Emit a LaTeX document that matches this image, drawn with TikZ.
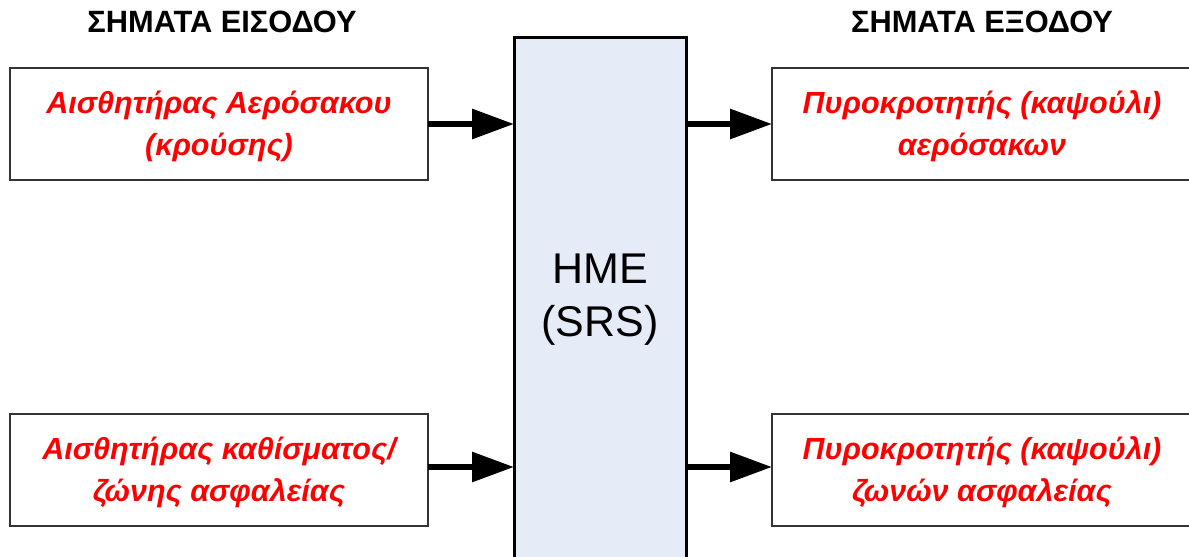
\documentclass[tikz,border=0pt]{standalone}
\usepackage{fontspec}
\setmainfont{Liberation Sans}
\usetikzlibrary{arrows.meta}
\begin{document}
\begin{tikzpicture}[x=1pt,y=-1pt,
  inbox/.style={draw=black!80, line width=1.2pt, fill=white},
  lbl/.style={text=red, font=\fontsize{30.5}{42}\selectfont\bfseries\itshape, align=center},
  head/.style={font=\fontsize{30.8}{34}\selectfont\bfseries},
  conn/.style={line width=6pt, -{Triangle[length=42pt,width=29pt]}, shorten >=0pt}]
\useasboundingbox (0,0) rectangle (1189,557);
\clip (0,0) rectangle (1189,557);
% central box
\draw[fill={rgb,255:red,230;green,236;blue,247}, line width=3pt] (514,37) rectangle (686,560);
\node[font=\fontsize{43}{53}\selectfont, align=center] (hme) at (600,300) {HME\\(SRS)};
\coordinate (cl1) at (514,124);
\coordinate (cl2) at (514,467);
\coordinate (cr1) at (686,124);
\coordinate (cr2) at (686,467);
% headings
\node[head] (h1) at (222,22) {ΣΗΜΑΤΑ ΕΙΣΟΔΟΥ};
\node[head] (h2) at (982,22) {ΣΗΜΑΤΑ ΕΞΟΔΟΥ};
% boxes
\draw[inbox] (10,68) rectangle (428,180);
\coordinate (b1) at (428,124);
\node[lbl] (t1) at (219,126) {Αισθητήρας Αερόσακου\\(κρούσης)};
\draw[inbox] (10,414) rectangle (428,526);
\coordinate (b2) at (428,467);
\node[lbl] (t2) at (219,472) {Αισθητήρας καθίσματος/\\ζώνης ασφαλείας};
\draw[inbox] (772,68) rectangle (1200,180);
\coordinate (b3) at (772,124);
\node[lbl] (t3) at (982,126) {Πυροκροτητής (καψούλι)\\αερόσακων};
\draw[inbox] (772,414) rectangle (1200,526);
\coordinate (b4) at (772,467);
\node[lbl] (t4) at (982,472) {Πυροκροτητής (καψούλι)\\ζωνών ασφαλείας};
% connectors
\draw[conn] (b1) -- (cl1);
\draw[conn] (b2) -- (cl2);
\draw[conn] (cr1) -- (b3);
\draw[conn] (cr2) -- (b4);
\end{tikzpicture}
\end{document}
